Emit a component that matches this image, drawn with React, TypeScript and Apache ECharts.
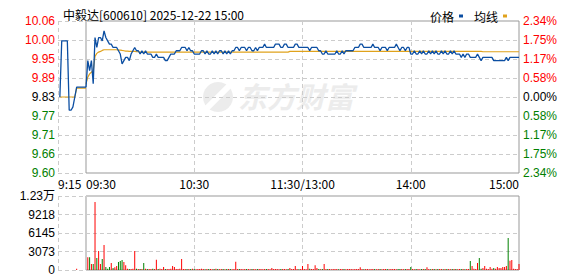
import React, { useEffect, useRef } from 'react';
import * as echarts from 'echarts';

const prevClose = 9.83;
const chartTitle = '中毅达[600610] 2025-12-22 15:00';
const legendNames = ['价格', '均线'];

// price axis tick labels (bottom -> top)
const priceTickLabels = ['9.60', '9.66', '9.71', '9.77', '9.83', '9.89', '9.95', '10.00', '10.06'];
const pctTickLabels = ['2.34%', '1.75%', '1.17%', '0.58%', '0.00%', '0.58%', '1.17%', '1.75%', '2.34%'];
const volTickLabels = ['0', '3073', '6145', '9218', '1.23万'];

// call auction 9:15 - 9:30
const preTimes = ['9:15', '9:16', '9:17', '9:18', '9:19', '9:20', '9:21', '9:22', '9:23', '9:24', '9:25', '9:26', '9:27', '9:28', '9:29', '9:30'];
const prePrice = [null, 9.83, 10.0, 10.0, 10.0, 10.0, 9.79, 9.79, 9.8, 9.83, 9.86, 9.86, 9.86, 9.86, 9.86, 9.86];
const preAvg = [null, 9.83, 9.83, 9.83, 9.83, 9.83, 9.83, 9.83, 9.83, 9.83, 9.857, 9.857, 9.857, 9.857, 9.857, 9.857];
const preVolume = [0, 0, 0, 0, 0, 0, 0, 0, 0, 0, 220, 0, 0, 0, 0, 0];

// 9:30 - 15:00, one value per minute (241)
const mainPrice = [
  9.86, 9.94, 9.91, 9.94, 9.87, 10.01, 9.98, 10.01, 10.01, 10.0,
  10.03, 10.01, 10.0, 9.99, 9.99, 9.98, 9.98, 9.98, 9.97, 9.96,
  9.93, 9.94, 9.95, 9.95, 9.94, 9.96, 9.97, 9.98, 9.97, 9.97,
  9.96, 9.97, 9.96, 9.97, 9.96, 9.96, 9.96, 9.95, 9.95, 9.96,
  9.95, 9.95, 9.95, 9.95, 9.94, 9.94, 9.95, 9.96, 9.96, 9.96,
  9.97, 9.97, 9.97, 9.98, 9.98, 9.98, 9.97, 9.98, 9.97, 9.97,
  9.96, 9.96, 9.96, 9.96, 9.97, 9.97, 9.96, 9.97, 9.96, 9.96,
  9.97, 9.96, 9.97, 9.96, 9.97, 9.97, 9.96, 9.97, 9.96, 9.97,
  9.96, 9.97, 9.97, 9.98, 9.98, 9.97, 9.98, 9.98, 9.98, 9.97,
  9.98, 9.98, 9.97, 9.97, 9.98, 9.97, 9.98, 9.98, 9.98, 9.99,
  9.98, 9.98, 9.98, 9.98, 9.98, 9.99, 9.99, 9.99, 9.98, 9.98,
  9.99, 9.99, 9.98, 9.98, 9.98, 9.98, 9.99, 9.99, 9.98, 9.98,
  9.98, 9.98, 9.98, 9.98, 9.97, 9.98, 9.98, 9.98, 9.98, 9.97,
  9.97, 9.96, 9.96, 9.97, 9.96, 9.96, 9.96, 9.96, 9.96, 9.97,
  9.96, 9.96, 9.97, 9.96, 9.97, 9.97, 9.97, 9.97, 9.97, 9.98,
  9.98, 9.98, 9.99, 9.99, 9.98, 9.98, 9.98, 9.98, 9.98, 9.99,
  9.98, 9.98, 9.98, 9.97, 9.98, 9.98, 9.98, 9.97, 9.98, 9.98,
  9.98, 9.98, 9.99, 9.98, 9.97, 9.98, 9.98, 9.97, 9.98, 9.98,
  9.96, 9.96, 9.97, 9.96, 9.96, 9.97, 9.96, 9.97, 9.96, 9.96,
  9.97, 9.96, 9.97, 9.96, 9.97, 9.96, 9.96, 9.97, 9.96, 9.97,
  9.96, 9.96, 9.97, 9.96, 9.97, 9.96, 9.96, 9.96, 9.95, 9.96,
  9.95, 9.96, 9.96, 9.95, 9.95, 9.95, 9.95, 9.96, 9.95, 9.94,
  9.95, 9.95, 9.95, 9.95, 9.95, 9.95, 9.94, 9.94, 9.94, 9.94,
  9.94, 9.94, 9.94, 9.95, 9.94, 9.95, 9.95, 9.95, 9.95, 9.95,
  9.95,
];

const mainAvg = [
  9.87, 9.89, 9.9, 9.905, 9.91, 9.953, 9.962, 9.966, 9.968, 9.971,
  9.973, 9.973, 9.973, 9.973, 9.973, 9.973, 9.973, 9.973, 9.972, 9.972,
  9.971, 9.97, 9.969, 9.969, 9.968, 9.968, 9.968, 9.968, 9.967, 9.967,
  9.966, 9.966, 9.966, 9.966, 9.966, 9.966, 9.966, 9.966, 9.966, 9.966,
  9.966, 9.966, 9.966, 9.966, 9.966, 9.966, 9.966, 9.966, 9.966, 9.966,
  9.966, 9.966, 9.966, 9.966, 9.966, 9.966, 9.966, 9.966, 9.966, 9.966,
  9.966, 9.966, 9.966, 9.966, 9.966, 9.966, 9.966, 9.966, 9.966, 9.966,
  9.966, 9.966, 9.966, 9.966, 9.966, 9.966, 9.966, 9.966, 9.966, 9.966,
  9.966, 9.966, 9.966, 9.966, 9.966, 9.966, 9.966, 9.966, 9.966, 9.966,
  9.966, 9.966, 9.966, 9.966, 9.966, 9.966, 9.966, 9.966, 9.966, 9.966,
  9.966, 9.966, 9.966, 9.966, 9.966, 9.966, 9.966, 9.966, 9.966, 9.966,
  9.966, 9.966, 9.966, 9.968, 9.968, 9.968, 9.968, 9.968, 9.968, 9.968,
  9.968, 9.968, 9.968, 9.968, 9.968, 9.968, 9.968, 9.968, 9.968, 9.968,
  9.968, 9.968, 9.968, 9.968, 9.968, 9.968, 9.968, 9.968, 9.968, 9.968,
  9.968, 9.968, 9.968, 9.968, 9.968, 9.968, 9.968, 9.968, 9.968, 9.968,
  9.968, 9.968, 9.968, 9.968, 9.968, 9.968, 9.968, 9.968, 9.968, 9.968,
  9.968, 9.968, 9.968, 9.968, 9.968, 9.968, 9.968, 9.968, 9.968, 9.968,
  9.968, 9.968, 9.968, 9.968, 9.968, 9.968, 9.968, 9.968, 9.968, 9.968,
  9.968, 9.968, 9.968, 9.968, 9.968, 9.968, 9.968, 9.968, 9.968, 9.968,
  9.968, 9.968, 9.968, 9.968, 9.968, 9.968, 9.968, 9.968, 9.968, 9.968,
  9.968, 9.968, 9.968, 9.968, 9.968, 9.968, 9.968, 9.968, 9.968, 9.968,
  9.968, 9.968, 9.968, 9.968, 9.968, 9.968, 9.968, 9.968, 9.968, 9.968,
  9.967, 9.967, 9.967, 9.967, 9.967, 9.967, 9.967, 9.967, 9.967, 9.967,
  9.967, 9.967, 9.967, 9.967, 9.967, 9.967, 9.967, 9.967, 9.967, 9.967,
  9.967,
];

const mainVolume = [
  0, 2100, 2100, 1000, 1000, 11290, 2000, 3150, 1000, 1830,
  4150, 500, 220, 500, 1160, 330, 440, 660, 1330, 1500,
  1660, 1330, 770, 220, 150, 180, 200, 3150, 200, 150,
  180, 150, 1160, 200, 150, 180, 150, 200, 150, 1700,
  150, 200, 150, 500, 150, 180, 150, 200, 660, 500,
  150, 180, 200, 1830, 150, 150, 180, 150, 150, 200,
  150, 120, 180, 150, 200, 150, 120, 150, 180, 150,
  120, 150, 200, 150, 120, 180, 150, 120, 150, 180,
  150, 120, 150, 1380, 150, 180, 150, 120, 150, 180,
  150, 120, 180, 150, 120, 150, 180, 150, 120, 150,
  180, 150, 120, 330, 150, 180, 150, 120, 150, 180,
  150, 120, 180, 330, 150, 180, 660, 150, 120, 150,
  660, 150, 120, 1000, 200, 150, 180, 770, 330, 150,
  120, 150, 1000, 150, 180, 150, 120, 150, 180, 150,
  120, 150, 180, 150, 120, 150, 180, 150, 120, 150,
  180, 150, 440, 150, 120, 180, 150, 120, 150, 180,
  150, 120, 180, 150, 120, 150, 180, 150, 120, 150,
  180, 150, 120, 150, 180, 150, 120, 150, 180, 150,
  500, 150, 120, 180, 150, 120, 150, 180, 150, 440,
  150, 120, 180, 150, 120, 150, 180, 150, 120, 150,
  180, 150, 120, 150, 180, 150, 120, 150, 180, 150,
  120, 150, 180, 1500, 660, 200, 150, 1160, 2000, 200,
  330, 660, 200, 150, 500, 200, 330, 200, 500, 330,
  330, 500, 500, 660, 5300, 1550, 1660, 200, 150, 150,
  1000,
];

const mainTickIndex = [0, 60, 120, 180, 240];
const mainTickText = ['09:30', '10:30', '11:30/13:00', '14:00', '15:00'];

function buildMainTimes(): string[] {
  const out: string[] = [];
  const fmt = (t: number) => `${String(Math.floor(t / 60)).padStart(2, '0')}:${String(t % 60).padStart(2, '0')}`;
  for (let t = 9 * 60 + 30; t <= 11 * 60 + 30; t++) out.push(fmt(t));
  for (let t = 13 * 60 + 1; t <= 15 * 60; t++) out.push(fmt(t));
  return out;
}

const UP = '#ff0000';
const DOWN = '#008000';
const FLAT = '#000000';
const BLUE = '#0b4ea2';
const GOLD = '#e0a21c';
const GRID_DASH = '#cccccc';
const FRAME = '#999999';
const WATERMARK = '#ececec';
const LATIN = "'Liberation Sans', Arial, 'Noto Sans CJK SC', sans-serif";
const CJK = "'Noto Sans CJK SC', 'Liberation Sans', sans-serif";

const toBp = (p: number | null) => (p == null ? null : (p / prevClose - 1) * 10000);
const tickIdx = (v: number) => Math.round((v + 234) / 58.5);

function volumeItems(vols: number[], prices: (number | null)[], firstPrev: number | null) {
  return vols.map((v, i) => {
    const cur = prices[i];
    const prev = i === 0 ? firstPrev : prices[i - 1];
    const up = cur == null || prev == null ? true : cur >= prev;
    return { value: v, itemStyle: { color: up ? UP : DOWN } };
  });
}

export default function App() {
  const ref = useRef<HTMLDivElement>(null);
  useEffect(() => {
    if (!ref.current) return;
    const chart = echarts.init(ref.current, undefined, { renderer: 'svg' });
    const mainTimes = buildMainTimes();
    const dash = { show: true, lineStyle: { color: GRID_DASH, type: [4, 3] as any, width: 1 } };
    const priceLabelColor = (v: any) => {
      const i = tickIdx(Number(v));
      return i > 4 ? UP : i < 4 ? DOWN : FLAT;
    };
    const option: any = {
      animation: false,
      backgroundColor: '#ffffff',
      title: {
        text: chartTitle,
        left: 58,
        top: 3,
        textStyle: { fontSize: 12, fontWeight: 'normal', color: '#000', fontFamily: CJK },
      },
      legend: {
        data: legendNames,
        right: 66,
        top: 5,
        align: 'right',
        icon: 'rect',
        itemWidth: 4,
        itemHeight: 3,
        itemGap: 11,
        textStyle: { fontSize: 12, color: '#000', fontFamily: CJK },
      },
      graphic: [
        {
          type: 'group',
          silent: true,
          z: -1,
          children: [
            {
              type: 'circle',
              shape: { cx: 218, cy: 97, r: 15 },
              style: { fill: WATERMARK },
            },
            {
              type: 'rect',
              shape: { x: -3, y: -20, width: 6, height: 40 },
              x: 218,
              y: 97,
              rotation: -Math.PI / 4,
              style: { fill: '#ffffff' },
            },
            {
              type: 'text',
              x: 238,
              y: 80,
              style: {
                text: '东方财富',
                fill: WATERMARK,
                font: "italic bold 29px 'Noto Sans CJK SC'",
              },
            },
          ],
        },
      ],
      grid: [
        { left: 58, top: 21, width: 28, height: 152, show: false },
        { left: 86, top: 21, width: 433, height: 152, show: true, borderColor: FRAME, borderWidth: 1, backgroundColor: 'transparent' },
        { left: 58, top: 196, width: 28, height: 74, show: false },
        { left: 86, top: 196, width: 433, height: 74, show: true, borderColor: FRAME, borderWidth: 1, backgroundColor: 'transparent' },
      ],
      xAxis: [
        {
          type: 'category', gridIndex: 0, data: preTimes, boundaryGap: false,
          axisLine: { show: false }, axisTick: { show: false },
          axisLabel: {
            interval: (i: number) => i === 0, margin: 4, fontSize: 12, color: '#000', fontFamily: CJK,
            alignMinLabel: 'left',
          },
          splitLine: { ...dash, interval: (i: number) => i === 0 },
        },
        {
          type: 'category', gridIndex: 1, data: mainTimes, boundaryGap: false,
          axisLine: { show: false }, axisTick: { show: false },
          axisLabel: {
            interval: (i: number) => mainTickIndex.includes(i),
            formatter: (_v: string, i: number) => mainTickText[mainTickIndex.indexOf(i)] ?? '',
            margin: 4, fontSize: 12, color: '#000', fontFamily: CJK,
            alignMinLabel: 'left', alignMaxLabel: 'right',
          },
          splitLine: { ...dash, interval: (i: number) => i === 60 || i === 120 || i === 180 },
        },
        {
          type: 'category', gridIndex: 2, data: preTimes, boundaryGap: false,
          axisLine: { show: false }, axisTick: { show: false }, axisLabel: { show: false },
          splitLine: { ...dash, interval: (i: number) => i === 0 },
        },
        {
          type: 'category', gridIndex: 3, data: mainTimes, boundaryGap: false,
          axisLine: { show: false }, axisTick: { show: false }, axisLabel: { show: false },
          splitLine: { ...dash, interval: (i: number) => i === 60 || i === 120 || i === 180 },
        },
      ],
      yAxis: [
        {
          type: 'value', gridIndex: 0, position: 'left', min: -234, max: 234, interval: 58.5,
          axisLine: { show: false }, axisTick: { show: false }, splitLine: dash,
          axisLabel: {
            margin: 3, fontSize: 12, fontFamily: LATIN,
            formatter: (v: number) => priceTickLabels[tickIdx(v)] ?? '',
            color: priceLabelColor,
          },
        },
        {
          type: 'value', gridIndex: 1, position: 'right', min: -234, max: 234, interval: 58.5,
          axisLine: { show: false }, axisTick: { show: false }, splitLine: dash,
          axisLabel: {
            margin: 4, fontSize: 12, fontFamily: LATIN,
            formatter: (v: number) => pctTickLabels[tickIdx(v)] ?? '',
            color: priceLabelColor,
          },
        },
        {
          type: 'value', gridIndex: 2, position: 'left', min: 0, max: 12291, interval: 3072.75,
          axisLine: { show: false }, axisTick: { show: false }, splitLine: dash,
          axisLabel: {
            margin: 3, fontSize: 12, fontFamily: LATIN, color: '#000',
            formatter: (v: number) => volTickLabels[Math.round(v / 3072.75)] ?? '',
          },
        },
        {
          type: 'value', gridIndex: 3, position: 'right', min: 0, max: 12291, interval: 3072.75,
          axisLine: { show: false }, axisTick: { show: false }, splitLine: dash,
          axisLabel: { show: false },
        },
      ],
      series: [
        {
          name: '均线', type: 'line', xAxisIndex: 0, yAxisIndex: 0, data: preAvg.map(toBp),
          showSymbol: false, lineStyle: { color: GOLD, width: 1.2 }, itemStyle: { color: GOLD }, z: 3,
        },
        {
          name: '价格', type: 'line', xAxisIndex: 0, yAxisIndex: 0, data: prePrice.map(toBp),
          showSymbol: false, lineStyle: { color: BLUE, width: 1.3 }, itemStyle: { color: BLUE }, z: 4,
        },
        {
          name: '均线', type: 'line', xAxisIndex: 1, yAxisIndex: 1, data: mainAvg.map(toBp),
          showSymbol: false, lineStyle: { color: GOLD, width: 1.2 }, itemStyle: { color: GOLD }, z: 3,
        },
        {
          name: '价格', type: 'line', xAxisIndex: 1, yAxisIndex: 1, data: mainPrice.map(toBp),
          showSymbol: false, lineStyle: { color: BLUE, width: 1.3 }, itemStyle: { color: BLUE }, z: 4,
        },
        {
          type: 'bar', xAxisIndex: 2, yAxisIndex: 2, barWidth: 1,
          data: volumeItems(preVolume, prePrice, null),
        },
        {
          type: 'bar', xAxisIndex: 3, yAxisIndex: 3, barWidth: 1,
          data: volumeItems(mainVolume, mainPrice, prePrice[prePrice.length - 1]),
        },
      ],
    };
    chart.setOption(option);
    return () => chart.dispose();
  }, []);
  return <div ref={ref} style={{ position: 'fixed', left: 0, top: 0, width: 578, height: 276 }} />;
}
